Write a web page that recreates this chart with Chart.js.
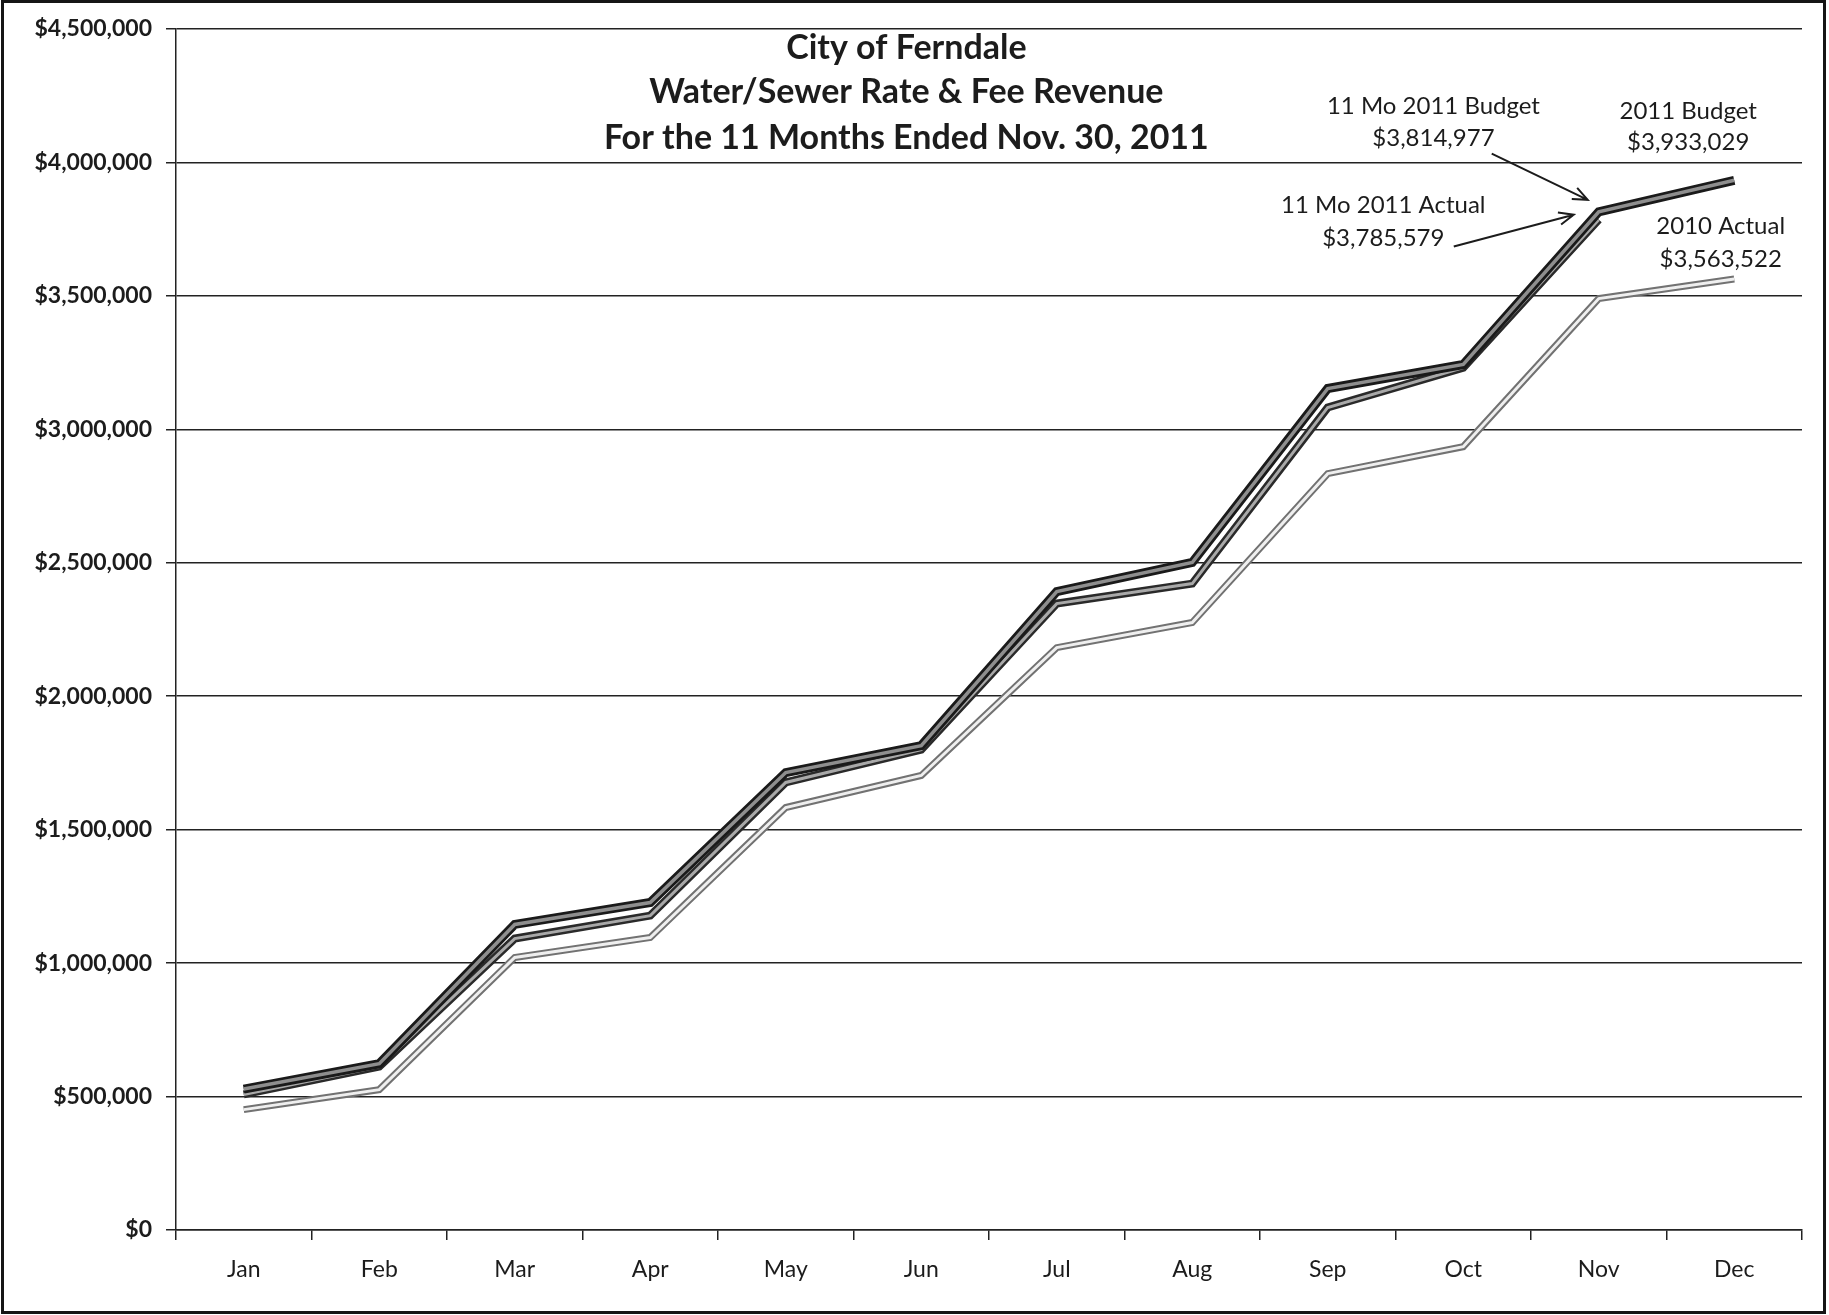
<!DOCTYPE html>
<html>
<head>
<meta charset="utf-8">
<script src="https://cdn.jsdelivr.net/npm/chart.js@4/dist/chart.umd.min.js"></script>
<style>
  body { margin: 0; background: #fff; }
  #wrap { position: relative; width: 1829px; height: 1315px; }
  #wrap canvas { position: absolute; left: 0; top: 0; }
  #frame { position: absolute; left: 1px; top: 0; right: 3px; bottom: 1px;
           border: 3px solid #151515; pointer-events: none; }
</style>
</head>
<body>
<div id="wrap">
  <canvas id="revenue" width="1829" height="1315"></canvas>
  <div id="frame"></div>
</div>
<script>
// months on the x axis
var months = ['Jan', 'Feb', 'Mar', 'Apr', 'May', 'Jun', 'Jul', 'Aug', 'Sep', 'Oct', 'Nov', 'Dec'];

// cumulative revenue
var budget2011 = [528000, 623000, 1145000, 1227000, 1714000, 1815000, 2392000, 2501000, 3153000, 3243000, 3814977, 3933029];
var actual2011 = [508000, 612000, 1092000, 1178000, 1677000, 1800000, 2347000, 2422000, 3082000, 3231000, 3785579];
var actual2010 = [451000, 526000, 1021000, 1096000, 1583000, 1703000, 2182000, 2276000, 2834000, 2935000, 3490000, 3563522];

// y axis: $0 .. $4,500,000 every $500,000
var yMin = 0;
var yMax = 4500000;
var yStep = 500000;

var titleLines = ['City of Ferndale', 'Water/Sewer Rate & Fee Revenue', 'For the 11 Months Ended Nov. 30, 2011'];

// callout texts
var budgetNote = ['11 Mo 2011 Budget', '$3,814,977'];
var fullBudgetNote = ['2011 Budget', '$3,933,029'];
var actualNote = ['11 Mo 2011 Actual', '$3,785,579'];
var lastYearNote = ['2010 Actual', '$3,563,522'];

var FONT = 'Lato, "Open Sans", sans-serif';
var INK = '#1c1c1c';

function money(v) {
    return '$' + Number(v).toLocaleString('en-US');
}

// x position for a fractional category index
function xAt(scale, i) {
    var a = scale.getPixelForValue(0);
    var b = scale.getPixelForValue(1);
    return a + i * (b - a);
}

function arrow(ctx, x1, y1, x2, y2) {
    var ang = Math.atan2(y2 - y1, x2 - x1);
    var head = 16;
    ctx.beginPath();
    ctx.moveTo(x1, y1);
    ctx.lineTo(x2, y2);
    ctx.moveTo(x2 - head * Math.cos(ang - 0.4), y2 - head * Math.sin(ang - 0.4));
    ctx.lineTo(x2, y2);
    ctx.lineTo(x2 - head * Math.cos(ang + 0.4), y2 - head * Math.sin(ang + 0.4));
    ctx.stroke();
}

var notesPlugin = {
    id: 'notes',
    afterDatasetsDraw: function (chart) {
        var ctx = chart.ctx;
        var x = chart.scales.x;
        var y = chart.scales.y;
        ctx.save();
        ctx.fillStyle = INK;
        ctx.textAlign = 'center';
        ctx.textBaseline = 'middle';

        // title sits inside the plot
        ctx.font = 'bold 34px ' + FONT;
        var tx = xAt(x, 4.89);
        ctx.fillText(titleLines[0], tx, y.getPixelForValue(4427000));
        ctx.fillText(titleLines[1], tx, y.getPixelForValue(4262000));
        ctx.fillText(titleLines[2], tx, y.getPixelForValue(4093000));

        ctx.font = '24px ' + FONT;
        ctx.fillText(budgetNote[0], xAt(x, 8.78), y.getPixelForValue(4209000));
        ctx.fillText(budgetNote[1], xAt(x, 8.78), y.getPixelForValue(4090000));
        ctx.fillText(fullBudgetNote[0], xAt(x, 10.66), y.getPixelForValue(4191000));
        ctx.fillText(fullBudgetNote[1], xAt(x, 10.66), y.getPixelForValue(4075000));
        ctx.fillText(actualNote[0], xAt(x, 8.41), y.getPixelForValue(3839000));
        ctx.fillText(actualNote[1], xAt(x, 8.41), y.getPixelForValue(3715000));
        ctx.fillText(lastYearNote[0], xAt(x, 10.90), y.getPixelForValue(3760000));
        ctx.fillText(lastYearNote[1], xAt(x, 10.90), y.getPixelForValue(3638000));

        // arrows to the November points
        ctx.strokeStyle = INK;
        ctx.lineWidth = 2;
        var nx = x.getPixelForValue(10);
        arrow(ctx, xAt(x, 9.21), y.getPixelForValue(4033000),
              nx - 11, y.getPixelForValue(budget2011[10]) - 12);
        arrow(ctx, xAt(x, 8.93), y.getPixelForValue(3685000),
              nx - 25, y.getPixelForValue(actual2011[10]) - 5);
        ctx.restore();
    }
};

function cased(label, values, outer, inner, wOut, wIn, order) {
    var base = { label: label, data: values, tension: 0, pointRadius: 0,
                 borderJoinStyle: 'miter', borderCapStyle: 'butt', fill: false };
    return [
        Object.assign({}, base, { borderColor: inner, borderWidth: wIn, order: order }),
        Object.assign({}, base, { borderColor: outer, borderWidth: wOut, order: order + 1 })
    ];
}

var datasets = []
    .concat(cased('2011 Budget', budget2011, '#1a1a1a', '#8e8e8e', 9, 3.5, 1))
    .concat(cased('2011 Actual', actual2011, '#2a2a2a', '#a9a9a9', 8, 3, 3))
    .concat(cased('2010 Actual', actual2010, '#727272', '#efefef', 7, 3, 5));

new Chart(document.getElementById('revenue'), {
    type: 'line',
    data: { labels: months, datasets: datasets },
    options: {
        responsive: false,
        animation: false,
        devicePixelRatio: 1,
        layout: { padding: { left: 0, right: 27, top: 29, bottom: 0 } },
        plugins: { legend: { display: false }, tooltip: { enabled: false } },
        scales: {
            x: {
                offset: true,
                afterFit: function (s) { s.height = 85; },
                grid: { offset: true, drawOnChartArea: false, color: '#222', lineWidth: 1.5, tickLength: 10 },
                border: { color: '#222', width: 1.5 },
                ticks: { color: INK, padding: 16, font: { family: FONT, size: 23 } }
            },
            y: {
                min: yMin,
                max: yMax,
                afterFit: function (s) { s.width = 176; },
                grid: { color: '#222', lineWidth: 1.5, tickLength: 10 },
                border: { color: '#222', width: 1.5 },
                ticks: {
                    stepSize: yStep,
                    color: INK,
                    padding: 14,
                    font: { family: FONT, size: 23, weight: 'bold' },
                    callback: function (v) { return money(v); }
                }
            }
        }
    },
    plugins: [notesPlugin]
});
</script>
</body>
</html>
